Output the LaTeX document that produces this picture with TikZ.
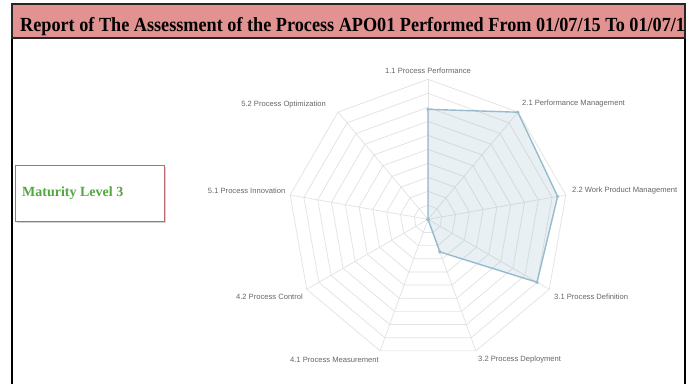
\documentclass[tikz,border=0pt]{standalone}
\usepackage{fontspec}
\setmainfont{Liberation Serif}
\newfontfamily\labfont{Liberation Sans}
\usetikzlibrary{shadows}
\definecolor{titlepink}{RGB}{226,146,145}
\definecolor{boxrose}{RGB}{184,106,112}
\definecolor{matgreen}{RGB}{80,168,62}
\definecolor{gridgray}{RGB}{226,226,226}
\definecolor{radarblue}{RGB}{151,187,205}
\definecolor{labgray}{RGB}{102,102,102}
\tikzset{
  gridline/.style={draw=gridgray, line width=0.7pt},
  axislabel/.style={font=\labfont\fontsize{7.6}{9}\selectfont, text=labgray, inner sep=0pt},
  datapoly/.style={draw=radarblue, line width=1.4pt, fill=radarblue, fill opacity=0.22, line join=round},
  datadot/.style={circle, fill=radarblue, inner sep=0pt, minimum size=3.6pt},
  framebar/.style={draw=black, line width=1.6pt},
}
\begin{document}
\begin{tikzpicture}[x=1pt,y=-1pt]
\useasboundingbox[fill=white] (0,0) rectangle (691,384);
% outer frame sides
\draw[framebar] (12,4) -- (12,384);
\draw[framebar] (685,4) -- (685,384);
% title bar
\fill[titlepink] (12,4) rectangle (685,38);
\node[anchor=base west, inner sep=0pt, font=\bfseries\fontsize{18.2}{22}\selectfont, yscale=1.1, transform shape] (title) at (20,31)
    {Report of The Assessment of the Process APO01 Performed From 01/07/15 To 01/07/1};
\draw[draw=black!85, line width=1.6pt] (12,4) rectangle (685,38);
% maturity box
\node[draw=boxrose, line width=1.1pt, fill=white, minimum width=149pt, minimum height=56pt, anchor=north west,
      drop shadow={opacity=0.35, shadow xshift=1.6pt, shadow yshift=-1.6pt}] (matbox) at (15,164.5) {};
\node[anchor=base west, inner sep=0pt, text=matgreen, font=\bfseries\fontsize{14}{16}\selectfont] (mattext) at (22,196.5) {Maturity Level 3};
% radar grid
\begin{scope}[shift={(428,219.3)}]
  \coordinate (c) at (0pt,0pt);
  \foreach \k in {1,...,10} {
    \pgfmathsetmacro{\r}{14*\k}
    \draw[gridline] (90:\r pt) -- (50:\r pt) -- (10:\r pt) -- (-30:\r pt) -- (-70:\r pt)
      -- (-110:\r pt) -- (-150:\r pt) -- (170:\r pt) -- (130:\r pt) -- cycle;
  }
  \foreach \a in {90,50,10,-30,-70,-110,-150,170,130} {
    \draw[gridline] (c) -- (\a:140pt);
  }
  % data
  \coordinate (d11) at (90:110pt);
  \coordinate (d21) at (50:139.8pt);
  \coordinate (d22) at (10:131.6pt);
  \coordinate (d31) at (-30:125.9pt);
  \coordinate (d32) at (-70:34.7pt);
  \coordinate (d41) at (0pt,0pt);
  \coordinate (d42) at (0pt,0pt);
  \coordinate (d51) at (0pt,0pt);
  \coordinate (d52) at (0pt,0pt);
  \draw[datapoly] (d11) -- (d21) -- (d22) -- (d31) -- (d32) -- (d41) -- (d42) -- (d51) -- (d52) -- cycle;
  \foreach \p in {d11,d21,d22,d31,d32,d41,d42,d51,d52} {
    \node[datadot] at (\p) {};
  }
\end{scope}
% axis labels
\node[axislabel, anchor=center] (l11) at (428,70.5) {1.1 Process Performance};
\node[axislabel, anchor=west] (l21) at (522,104) {2.1 Performance Management};
\node[axislabel, anchor=west] (l22) at (572,190.7) {2.2 Work Product Management};
\node[axislabel, anchor=west] (l31) at (554,296.7) {3.1 Process Definition};
\node[axislabel, anchor=west] (l32) at (478,360) {3.2 Process Deployment};
\node[axislabel, anchor=east] (l41) at (379,360) {4.1 Process Measurement};
\node[axislabel, anchor=east] (l42) at (303,296.7) {4.2 Process Control};
\node[axislabel, anchor=east] (l51) at (285.5,190.7) {5.1 Process Innovation};
\node[axislabel, anchor=east] (l52) at (326,104.5) {5.2 Process Optimization};
\end{tikzpicture}
\end{document}
